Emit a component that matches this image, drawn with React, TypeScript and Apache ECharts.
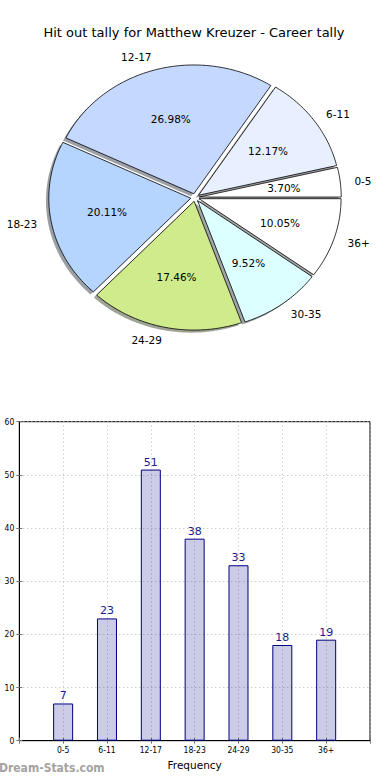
import React, { useEffect, useRef } from "react";
import * as echarts from "echarts";

const categories = ["0-5", "6-11", "12-17", "18-23", "24-29", "30-35", "36+"];
const counts = [7, 23, 51, 38, 33, 18, 19];
const pieColors = ["#ffffff", "#e8f0ff", "#c5d9ff", "#b5d5ff", "#d0eb8c", "#dcffff", "#ffffff"];
const yTickValues = [0, 10, 20, 30, 40, 50, 60];

const TITLE = "Hit out tally for Matthew Kreuzer - Career tally";
const EXPLODE = 0.03;
const FONT = "DejaVu Sans";

function hexToRgb(h: string) {
  const n = parseInt(h.slice(1), 16);
  return [(n >> 16) & 255, (n >> 8) & 255, n & 255];
}

export default function App() {
  const ref = useRef<HTMLDivElement>(null);
  useEffect(() => {
    const chart = echarts.init(ref.current!, null, { renderer: "svg" });
    const total = counts.reduce((a, b) => a + b, 0);
    const cum: number[] = [0];
    counts.forEach((v) => cum.push(cum[cum.length - 1] + v));

    const wedge = (shadow: boolean) => (params: any, api: any) => {
      const i = params.dataIndex;
      const a0 = (cum[i] / total) * Math.PI * 2;
      const a1 = (cum[i + 1] / total) * Math.PI * 2;
      const mid = (a0 + a1) / 2;
      const ox = shadow ? -0.02 : 0;
      const oy = shadow ? -0.02 : 0;
      const ex = EXPLODE * Math.cos(mid) + ox;
      const ey = EXPLODE * Math.sin(mid) + oy;
      const pts: number[][] = [api.coord([ex, ey])];
      const n = Math.max(4, Math.ceil(((a1 - a0) * 180) / Math.PI));
      for (let k = 0; k <= n; k++) {
        const t = a0 + ((a1 - a0) * k) / n;
        pts.push(api.coord([ex + Math.cos(t), ey + Math.sin(t)]));
      }
      if (shadow) {
        const c = hexToRgb(pieColors[i]).map((x) => Math.round(x * 0.3));
        return {
          type: "polygon",
          shape: { points: pts },
          style: { fill: `rgba(${c[0]},${c[1]},${c[2]},0.5)`, stroke: "none" },
        };
      }
      const pct = api.coord([ex + 0.6 * Math.cos(mid), ey + 0.6 * Math.sin(mid)]);
      const lbl = api.coord([ex + 1.1 * Math.cos(mid), ey + 1.1 * Math.sin(mid)]);
      const pctText = ((counts[i] / total) * 100).toFixed(2) + "%";
      return {
        type: "group",
        children: [
          {
            type: "polygon",
            shape: { points: pts },
            style: { fill: pieColors[i], stroke: "#000", lineWidth: 0.8 },
          },
          {
            type: "text",
            x: pct[0],
            y: pct[1],
            style: {
              text: pctText,
              align: "center",
              verticalAlign: "middle",
              fontSize: 10.5,
              fontFamily: FONT,
              fill: "#000",
            },
          },
          {
            type: "text",
            x: lbl[0],
            y: lbl[1],
            style: {
              text: categories[i],
              align: Math.cos(mid) > 0 ? "left" : "right",
              verticalAlign: "middle",
              fontSize: 10.5,
              fontFamily: FONT,
              fill: "#000",
            },
          },
        ],
      };
    };

    const pieData = counts.map((v, i) => [i, v]);

    chart.setOption({
      animation: false,
      backgroundColor: "#fff",
      title: {
        text: TITLE,
        left: 189,
        top: 21,
        textAlign: "center",
        textStyle: { fontFamily: FONT, fontSize: 13, fontWeight: "normal", color: "#000" },
      },
      grid: [
        { left: 17.5, top: 36.5, width: 355, height: 322 },
        {
          left: 19.3,
          top: 421.7,
          width: 350.7,
          height: 319,
          show: true,
          borderColor: "#000",
          borderWidth: 1,
          backgroundColor: "#fff",
        },
      ],
      xAxis: [
        { gridIndex: 0, type: "value", min: -1.25, max: 1.25, show: false },
        {
          gridIndex: 1,
          type: "value",
          min: 0,
          max: 8,
          interval: 1,
          name: "Frequency",
          nameLocation: "middle",
          nameGap: 19,
          nameTextStyle: { fontFamily: FONT, fontSize: 10.5, color: "#000" },
          axisLine: { show: true, lineStyle: { color: "#000", width: 1 } },
          axisTick: { show: true, inside: true, length: 3, lineStyle: { color: "#777" } },
          axisLabel: {
            show: true,
            margin: 5,
            fontFamily: "DejaVu Sans Condensed, DejaVu Sans",
            fontSize: 8.5,
            color: "#000",
            formatter: (v: number) => (v >= 1 && v <= categories.length ? categories[v - 1] : ""),
          },
          splitLine: { show: true, lineStyle: { color: "#b8b8b8", type: [1, 3], width: 1 } },
        },
        {
          gridIndex: 1,
          type: "value",
          position: "top",
          min: 0,
          max: 8,
          interval: 1,
          axisLine: { show: false },
          axisTick: { show: true, inside: true, length: 3, lineStyle: { color: "#777" } },
          axisLabel: { show: false },
          splitLine: { show: false },
        },
      ],
      yAxis: [
        { gridIndex: 0, type: "value", min: -1.25, max: 1.25, show: false },
        {
          gridIndex: 1,
          type: "value",
          min: yTickValues[0],
          max: yTickValues[yTickValues.length - 1],
          interval: 10,
          axisLine: { show: true, lineStyle: { color: "#000", width: 1 } },
          axisTick: { show: true, inside: true, length: 3, lineStyle: { color: "#777" } },
          axisLabel: {
            margin: 5,
            fontFamily: "DejaVu Sans Condensed, DejaVu Sans",
            fontSize: 8.5,
            color: "#000",
          },
          splitLine: { show: true, lineStyle: { color: "#b8b8b8", type: [1, 3], width: 1 } },
        },
        {
          gridIndex: 1,
          type: "value",
          position: "right",
          min: 0,
          max: 60,
          interval: 10,
          axisLine: { show: false },
          axisTick: { show: true, inside: true, length: 3, lineStyle: { color: "#777" } },
          axisLabel: { show: false },
          splitLine: { show: false },
        },
      ],
      series: [
        {
          type: "custom",
          xAxisIndex: 0,
          yAxisIndex: 0,
          clip: false,
          silent: true,
          renderItem: wedge(true),
          data: pieData,
          z: 1,
        },
        {
          type: "custom",
          xAxisIndex: 0,
          yAxisIndex: 0,
          clip: false,
          silent: true,
          renderItem: wedge(false),
          data: pieData,
          z: 2,
        },
        {
          type: "bar",
          xAxisIndex: 1,
          yAxisIndex: 1,
          barWidth: 20,
          silent: true,
          data: counts.map((v, i) => [i + 1, v]),
          itemStyle: { color: "rgba(0,0,128,0.2)", borderColor: "#000080", borderWidth: 1 },
          label: {
            show: true,
            position: "top",
            distance: 2,
            fontFamily: FONT,
            fontSize: 11,
            color: "#1a1a8c",
          },
        },
      ],
      graphic: [
        {
          type: "text",
          left: -1,
          top: 762,
          style: {
            text: "Dream-Stats.com",
            fontFamily: "DejaVu Sans Condensed, DejaVu Sans",
            fontWeight: "bold",
            fontSize: 12,
            fill: "#a3a3a3",
          },
        },
      ],
    });
    return () => chart.dispose();
  }, []);
  return (
    <div
      ref={ref}
      style={{ position: "fixed", left: 0, top: 0, width: 390, height: 780, background: "#fff" }}
    />
  );
}
